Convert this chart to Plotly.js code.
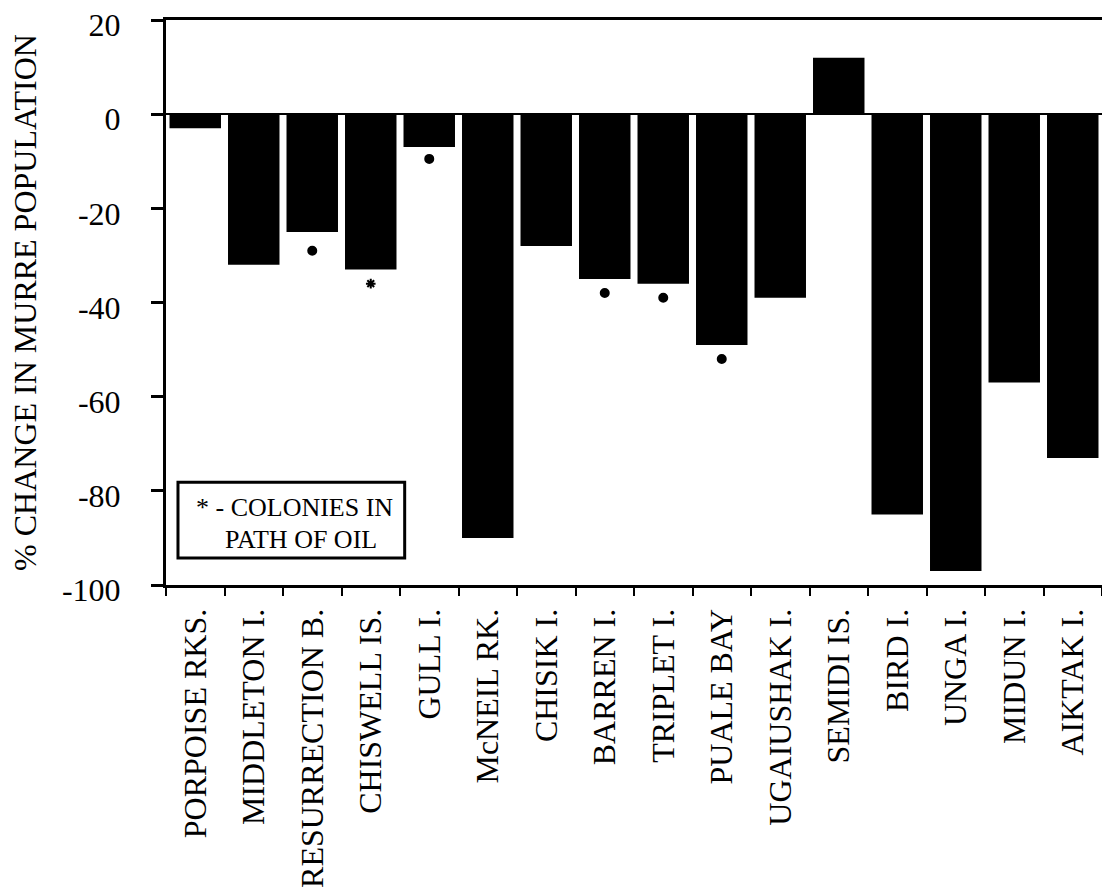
<!DOCTYPE html>
<html>
<head>
<meta charset="utf-8">
<script src="https://cdn.plot.ly/plotly-3.0.1.min.js"></script>
<style>html,body{margin:0;padding:0;background:#fff;}#chart{width:1102px;height:893px;}</style>
</head>
<body>
<div id="chart"></div>
<script>
// Colonies (x categories)
const colonies = ["PORPOISE RKS.", "MIDDLETON I.", "RESURRECTION B.", "CHISWELL IS.", "GULL I.",
  "McNEIL RK.", "CHISIK I.", "BARREN I.", "TRIPLET I.", "PUALE BAY", "UGAIUSHAK I.",
  "SEMIDI IS.", "BIRD I.", "UNGA I.", "MIDUN I.", "AIKTAK I."];
// % change in murre population
const pctChange = [-3, -32, -25, -33, -7, -90, -28, -35, -36, -49, -39, 12, -85, -97, -57, -73];
// Colonies in path of oil: marker positions
const oilColonies = ["RESURRECTION B.", "CHISWELL IS.", "GULL I.", "BARREN I.", "TRIPLET I.", "PUALE BAY"];
const oilMarkerY = [-29, -36, -9.5, -38, -39, -52];
const yTicks = [20, 0, -20, -40, -60, -80, -100];

const serif = "'Liberation Serif', 'Times New Roman', Times, serif";

const bars = {
  type: "bar",
  x: colonies,
  y: pctChange,
  marker: {color: "#000", line: {width: 0}},
  hoverinfo: "x+y",
  showlegend: false
};
const marks = {
  type: "scatter",
  mode: "markers",
  x: oilColonies,
  y: oilMarkerY,
  marker: {
    color: "#000",
    size: 8,
    symbol: oilColonies.map(c => c === "CHISWELL IS." ? "asterisk-open" : "circle"),
    line: {color: "#000", width: 2}
  },
  showlegend: false
};

const layout = {
  width: 1102,
  height: 893,
  margin: {l: 166, r: 0, t: 20, b: 308},
  paper_bgcolor: "#fff",
  plot_bgcolor: "#fff",
  bargap: 0.12,
  showlegend: false,
  font: {family: serif, color: "#000"},
  xaxis: {
    type: "category",
    categoryorder: "array",
    categoryarray: colonies,
    range: [-0.5, 15.5],
    showline: true,
    linecolor: "#000",
    linewidth: 3,
    mirror: true,
    ticks: "outside",
    tickson: "boundaries",
    ticklen: 8,
    tickwidth: 2,
    tickcolor: "#000",
    tickangle: -90,
    tickfont: {family: serif, size: 32, color: "#000"},
    ticklabelstandoff: 8,
    showgrid: false,
    zeroline: false,
    fixedrange: true
  },
  yaxis: {
    range: [-100, 20],
    tickvals: yTicks,
    ticktext: yTicks.map(String),
    showline: true,
    linecolor: "#000",
    linewidth: 3,
    ticks: "outside",
    ticklen: 12,
    tickwidth: 3,
    tickcolor: "#000",
    tickfont: {family: serif, size: 32, color: "#000"},
    ticklabelstandoff: 24,
    ticklabelshift: 5,
    showgrid: false,
    zeroline: true,
    zerolinecolor: "#000",
    zerolinewidth: 2,
    title: {text: "% CHANGE IN MURRE POPULATION", font: {family: serif, size: 32, color: "#000"}, standoff: 16},
    fixedrange: true
  },
  shapes: [
    {type: "rect", xref: "paper", yref: "paper", x0: 0.0128, x1: 0.255, y0: 0.048, y1: 0.182,
     line: {color: "#000", width: 3}, fillcolor: "rgba(255,255,255,0)"}
  ],
  annotations: [
    {xref: "paper", yref: "paper", x: 0.030, y: 0.138, xanchor: "left", yanchor: "middle",
     text: "* - COLONIES IN", showarrow: false, font: {family: serif, size: 26, color: "#000"}},
    {xref: "paper", yref: "paper", x: 0.061, y: 0.080, xanchor: "left", yanchor: "middle",
     text: "PATH OF OIL", showarrow: false, font: {family: serif, size: 26, color: "#000"}}
  ]
};

Plotly.newPlot("chart", [bars, marks], layout, {displayModeBar: false, staticPlot: true});
</script>
</body>
</html>
